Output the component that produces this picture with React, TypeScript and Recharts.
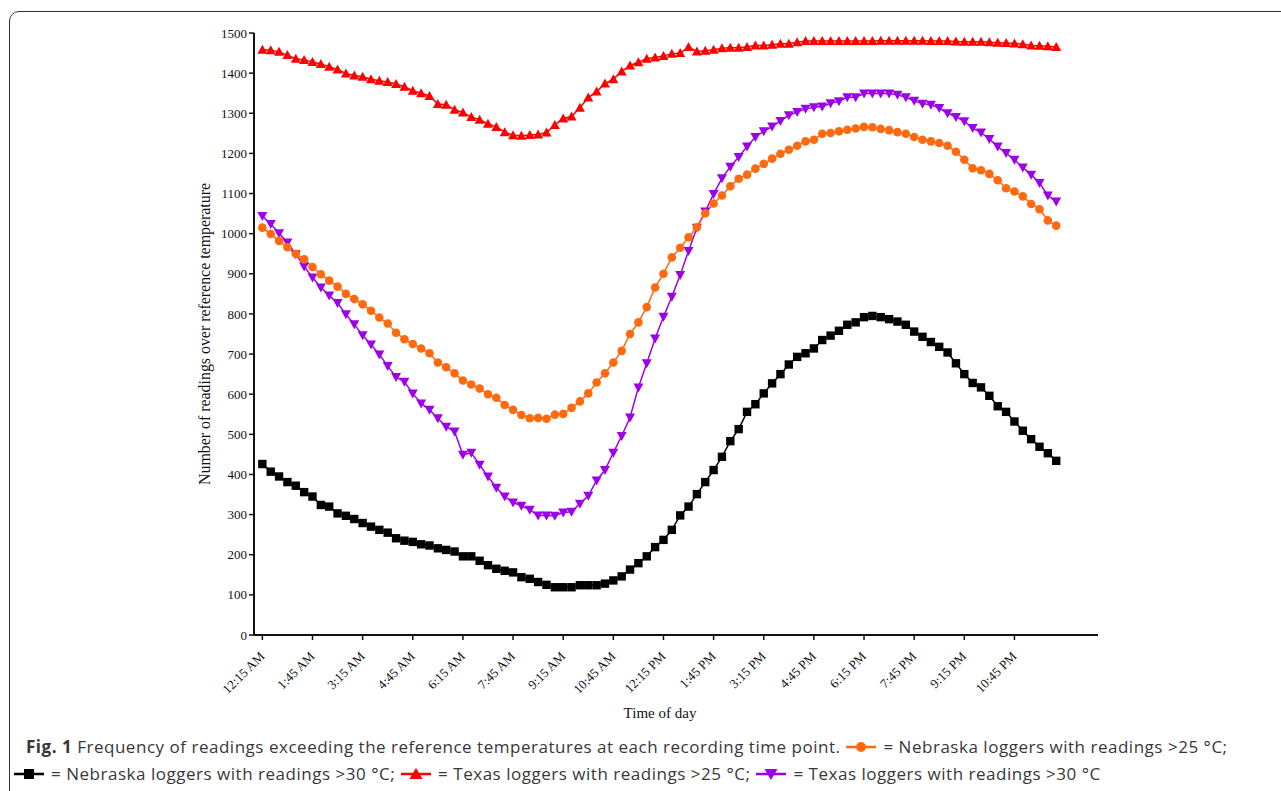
import { Line, LineChart, XAxis, YAxis } from 'recharts';

const times = [
  '12:15 AM', '12:30 AM', '12:45 AM', '1:00 AM', '1:15 AM', '1:30 AM', '1:45 AM', '2:00 AM',
  '2:15 AM', '2:30 AM', '2:45 AM', '3:00 AM', '3:15 AM', '3:30 AM', '3:45 AM', '4:00 AM',
  '4:15 AM', '4:30 AM', '4:45 AM', '5:00 AM', '5:15 AM', '5:30 AM', '5:45 AM', '6:00 AM',
  '6:15 AM', '6:30 AM', '6:45 AM', '7:00 AM', '7:15 AM', '7:30 AM', '7:45 AM', '8:00 AM',
  '8:15 AM', '8:30 AM', '8:45 AM', '9:00 AM', '9:15 AM', '9:30 AM', '9:45 AM', '10:00 AM',
  '10:15 AM', '10:30 AM', '10:45 AM', '11:00 AM', '11:15 AM', '11:30 AM', '11:45 AM', '12:00 PM',
  '12:15 PM', '12:30 PM', '12:45 PM', '1:00 PM', '1:15 PM', '1:30 PM', '1:45 PM', '2:00 PM',
  '2:15 PM', '2:30 PM', '2:45 PM', '3:00 PM', '3:15 PM', '3:30 PM', '3:45 PM', '4:00 PM',
  '4:15 PM', '4:30 PM', '4:45 PM', '5:00 PM', '5:15 PM', '5:30 PM', '5:45 PM', '6:00 PM',
  '6:15 PM', '6:30 PM', '6:45 PM', '7:00 PM', '7:15 PM', '7:30 PM', '7:45 PM', '8:00 PM',
  '8:15 PM', '8:30 PM', '8:45 PM', '9:00 PM', '9:15 PM', '9:30 PM', '9:45 PM', '10:00 PM',
  '10:15 PM', '10:30 PM', '10:45 PM', '11:00 PM', '11:15 PM', '11:30 PM', '11:45 PM', '12:00 AM',
];

// Nebraska loggers, readings > 25 °C
const nebraska25 = [
  1015, 999, 982, 966, 950, 936, 917, 899, 883, 868, 850, 837, 824, 808, 791, 776,
  753, 737, 725, 714, 702, 679, 667, 652, 634, 624, 614, 600, 591, 573, 561, 548,
  540, 541, 539, 549, 551, 566, 582, 602, 629, 652, 679, 708, 750, 779, 817, 866,
  900, 941, 965, 991, 1016, 1051, 1075, 1095, 1118, 1137, 1147, 1162, 1174, 1187, 1199, 1209,
  1219, 1230, 1234, 1249, 1251, 1255, 1259, 1262, 1266, 1265, 1261, 1258, 1253, 1249, 1241, 1234,
  1230, 1226, 1219, 1204, 1184, 1163, 1158, 1149, 1133, 1113, 1105, 1093, 1074, 1061, 1033, 1020,
];

// Nebraska loggers, readings > 30 °C
const nebraska30 = [
  426, 407, 395, 381, 372, 356, 345, 324, 320, 303, 297, 289, 279, 270, 262, 255,
  241, 235, 232, 226, 223, 216, 212, 208, 196, 196, 185, 174, 165, 160, 156, 144,
  140, 132, 125, 119, 119, 119, 124, 124, 124, 128, 136, 146, 163, 179, 196, 219,
  237, 262, 298, 320, 351, 381, 411, 444, 483, 513, 556, 575, 602, 627, 650, 674,
  693, 702, 714, 735, 746, 758, 773, 779, 792, 795, 792, 787, 781, 773, 756, 743,
  730, 718, 704, 677, 650, 628, 617, 596, 570, 556, 532, 509, 488, 469, 453, 434,
];

// Texas loggers, readings > 25 °C
const texas25 = [
  1458, 1457, 1453, 1445, 1436, 1433, 1428, 1423, 1416, 1409, 1399, 1394, 1391, 1385, 1381, 1378,
  1373, 1366, 1356, 1350, 1343, 1323, 1321, 1309, 1302, 1291, 1284, 1274, 1266, 1253, 1245, 1244,
  1246, 1247, 1252, 1271, 1287, 1292, 1314, 1339, 1354, 1374, 1385, 1404, 1419, 1427, 1436, 1439,
  1443, 1448, 1450, 1465, 1454, 1456, 1458, 1462, 1463, 1463, 1465, 1469, 1469, 1471, 1473, 1473,
  1477, 1480, 1480, 1480, 1480, 1480, 1480, 1480, 1480, 1480, 1481, 1481, 1481, 1481, 1481, 1481,
  1480, 1480, 1480, 1479, 1478, 1478, 1478, 1477, 1476, 1475, 1474, 1472, 1469, 1468, 1467, 1465,
];

// Texas loggers, readings > 30 °C
const texas30 = [
  1044, 1024, 1001, 978, 949, 918, 891, 866, 846, 827, 799, 774, 747, 724, 699, 670,
  643, 631, 602, 577, 561, 540, 519, 507, 449, 454, 424, 395, 367, 345, 330, 322,
  312, 298, 298, 297, 305, 307, 327, 347, 385, 411, 454, 496, 542, 617, 677, 739,
  793, 843, 897, 957, 1015, 1055, 1099, 1138, 1167, 1191, 1217, 1241, 1255, 1267, 1281, 1295,
  1303, 1311, 1315, 1317, 1325, 1330, 1340, 1340, 1349, 1349, 1349, 1349, 1346, 1340, 1331, 1324,
  1321, 1313, 1300, 1291, 1280, 1263, 1252, 1236, 1217, 1201, 1184, 1165, 1147, 1126, 1095, 1080,
];

const xTicks = [0, 6, 12, 18, 24, 30, 36, 42, 48, 54, 60, 66, 72, 78, 84, 90];
const yTicks = [0, 100, 200, 300, 400, 500, 600, 700, 800, 900, 1000, 1100, 1200, 1300, 1400, 1500];

const data = times.map((time, idx) => ({
  idx,
  time,
  nebraska25: nebraska25[idx],
  nebraska30: nebraska30[idx],
  texas25: texas25[idx],
  texas30: texas30[idx],
}));

const ORANGE = '#ff6a10';
const BLACK = '#000000';
const RED = '#ff0000';
const PURPLE = '#9d00e8';
const SERIF = '"Liberation Serif", "Times New Roman", serif';

function XTick({ x, y, payload }: any) {
  return (
    <text x={x + 3} y={y + 15} transform={`rotate(-45 ${x + 3} ${y + 15})`} textAnchor="end"
      fontSize={13} fontFamily={SERIF} fill="#111">
      {times[payload.value]}
    </text>
  );
}

const circleDot = (p: any) => <circle key={`c${p.index}`} cx={p.cx} cy={p.cy} r={4.3} fill={ORANGE} />;
const squareDot = (p: any) => <rect key={`s${p.index}`} x={p.cx - 4.2} y={p.cy - 4.2} width={8.4} height={8.4} fill={BLACK} />;
const triUpDot = (p: any) => (
  <path key={`u${p.index}`} d={`M${p.cx},${p.cy - 5} L${p.cx + 5},${p.cy + 4} L${p.cx - 5},${p.cy + 4} Z`} fill={RED} />
);
const triDownDot = (p: any) => (
  <path key={`d${p.index}`} d={`M${p.cx},${p.cy + 5} L${p.cx + 5},${p.cy - 4} L${p.cx - 5},${p.cy - 4} Z`} fill={PURPLE} />
);

function Glyph({ color, shape }: { color: string; shape: 'circle' | 'square' | 'up' | 'down' }) {
  return (
    <svg width={32} height={14} style={{ verticalAlign: '-1px', marginRight: 6 }}>
      <line x1={1} y1={7} x2={31} y2={7} stroke={color} strokeWidth={2.5} />
      {shape === 'circle' && <circle cx={16} cy={7} r={5} fill={color} />}
      {shape === 'square' && <rect x={11} y={2} width={10} height={10} fill={color} />}
      {shape === 'up' && <path d="M16,1 L22.5,12 L9.5,12 Z" fill={color} />}
      {shape === 'down' && <path d="M16,13 L22.5,2 L9.5,2 Z" fill={color} />}
    </svg>
  );
}

const captionStyle = {
  position: 'absolute' as const,
  fontFamily: '"Open Sans", sans-serif',
  fontSize: 17,
  letterSpacing: '0.52px',
  lineHeight: '27px',
  color: '#383838',
  whiteSpace: 'nowrap' as const,
};

export default function App() {
  return (
    <div style={{ position: 'absolute', left: 0, top: 0, width: 1281, height: 791, overflow: 'hidden', background: '#fff' }}>
      <div style={{ position: 'absolute', left: 9, top: 11, width: 1300, height: 800, border: '1.5px solid #333', borderRadius: 10 }} />
      <div style={{ position: 'absolute', left: 0, top: 0 }}>
        <LineChart width={1281} height={700} data={data} margin={{ top: 33, right: 183, bottom: 5, left: 194 }}>
          <XAxis dataKey="idx" type="number" domain={[-1, 100]} ticks={xTicks} interval={0} allowDataOverflow
            height={60} tickSize={5} tick={<XTick />}
            axisLine={{ stroke: '#111', strokeWidth: 2 }} tickLine={{ stroke: '#111', strokeWidth: 1.5 }} />
          <YAxis type="number" domain={[0, 1500]} ticks={yTicks} interval={0} width={60} tickSize={5}
            tick={{ fontSize: 13, fontFamily: SERIF, fill: '#111' }}
            axisLine={{ stroke: '#111', strokeWidth: 2 }} tickLine={{ stroke: '#111', strokeWidth: 1.5 }} />
          <Line type="linear" dataKey="texas25" stroke={RED} strokeWidth={1.5} dot={triUpDot} isAnimationActive={false} />
          <Line type="linear" dataKey="nebraska30" stroke={BLACK} strokeWidth={1.5} dot={squareDot} isAnimationActive={false} />
          <Line type="linear" dataKey="texas30" stroke={PURPLE} strokeWidth={1.5} dot={triDownDot} isAnimationActive={false} />
          <Line type="linear" dataKey="nebraska25" stroke={ORANGE} strokeWidth={1.5} dot={circleDot} isAnimationActive={false} />
        </LineChart>
      </div>
      <svg width={1281} height={791} style={{ position: 'absolute', left: 0, top: 0, pointerEvents: 'none' }}>
        <text x={210} y={334} transform="rotate(-90 210 334)" textAnchor="middle" fontSize={16}
          textLength={302} lengthAdjust="spacingAndGlyphs" fontFamily={SERIF} fill="#111">
          Number of readings over reference temperature
        </text>
        <text x={660} y={718} textAnchor="middle" fontSize={15} fontFamily={SERIF} fill="#111">Time of day</text>
      </svg>
      <div style={{ ...captionStyle, left: 26, top: 733 }}>
        <b>Fig. 1</b> Frequency of readings exceeding the reference temperatures at each recording time point.{' '}
        <Glyph color={ORANGE} shape="circle" />= Nebraska loggers with readings &gt;25 °C;
      </div>
      <div style={{ ...captionStyle, left: 13, top: 760 }}>
        <Glyph color={BLACK} shape="square" />= Nebraska loggers with readings &gt;30 °C;{' '}
        <Glyph color={RED} shape="up" />= Texas loggers with readings &gt;25 °C;{' '}
        <Glyph color={PURPLE} shape="down" />= Texas loggers with readings &gt;30 °C
      </div>
    </div>
  );
}
